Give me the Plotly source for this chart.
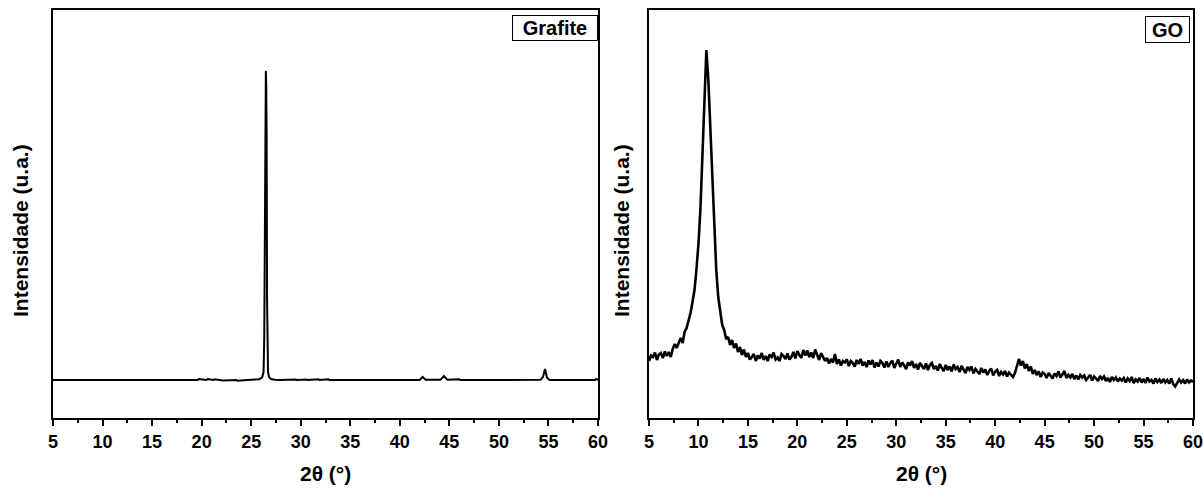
import numpy as np
import plotly.graph_objects as go
from plotly.subplots import make_subplots

# ---------------- Data ----------------
# Grafite diffractogram (arbitrary intensity units)
grafite_2theta = [5.0, 19.6, 19.7, 20.5, 20.6, 21.2, 21.3, 22.0, 22.1, 23.5, 23.6, 25.0,
                  25.8, 26.1, 26.25, 26.32, 26.38, 26.42, 26.48, 26.52, 26.56, 26.6,
                  26.64, 26.7, 26.8, 27.0, 27.4, 28.0, 29.5, 29.6, 30.6, 30.7, 31.8,
                  31.9, 32.8, 32.9, 42.0, 42.3, 42.6, 44.1, 44.45, 44.8, 46.0, 46.1,
                  54.2, 54.45, 54.65, 54.85, 55.1, 59.7, 59.8, 60.0]
grafite_int = [370, 370, 380, 370, 380, 370, 378, 370, 365, 370, 362, 372,
               378, 395, 450, 800, 2100, 2900, 3460, 3300, 2800, 1200,
               700, 450, 400, 380, 372, 370, 375, 370, 376, 370, 378,
               370, 377, 370, 370, 400, 372, 372, 410, 372, 377, 370,
               372, 400, 480, 395, 370, 370, 380, 372]

# GO diffractogram, sampled every 0.2 degree from 5 to 60
go_2theta = np.round(np.arange(5.0, 60.0001, 0.2), 1)
go_int = [
    560, 615, 600, 645, 570, 625, 640, 590, 655, 610,          # 5.0 - 6.8
    650, 600, 680, 730, 690, 745, 790, 740, 850, 890,          # 7.0 - 8.8
    960, 1040, 1150, 1270, 1480, 1730, 2080, 2570, 3050, 3670, # 9.0 - 10.8
    3370, 2890, 2380, 1810, 1470, 1200, 1070, 920, 870, 780,   # 11.0 - 12.8
    800, 720, 770, 690, 735, 650, 700, 620, 675, 600,          # 13.0 - 14.8
    640, 575, 600, 630, 560, 615, 585, 640, 570, 610,          # 15.0 - 16.8
    560, 625, 600, 645, 575, 595, 560, 630, 610, 580,          # 17.0 - 18.8
    635, 575, 600, 650, 585, 660, 620, 590, 670, 615,          # 19.0 - 20.8
    665, 600, 645, 590, 675, 610, 570, 640, 600, 560,          # 21.0 - 22.8
    590, 535, 580, 545, 630, 530, 575, 515, 560, 545,          # 23.0 - 24.8
    575, 510, 560, 540, 505, 570, 530, 580, 515, 550,          # 25.0 - 26.8
    500, 565, 525, 570, 495, 545, 505, 560, 540, 495,          # 27.0 - 28.8
    555, 500, 540, 565, 490, 530, 575, 500, 545, 515,          # 29.0 - 30.8
    480, 545, 515, 560, 490, 530, 475, 540, 505, 480,          # 31.0 - 32.8
    535, 470, 520, 540, 480, 510, 465, 530, 490, 460,          # 33.0 - 34.8
    520, 470, 505, 455, 525, 480, 500, 450, 510, 470,          # 35.0 - 36.8
    440, 500, 470, 505, 435, 480, 455, 430, 490, 445,          # 37.0 - 38.8
    475, 420, 460, 485, 415, 455, 470, 410, 450, 425,          # 39.0 - 40.8
    460, 405, 445, 425, 400, 440, 520, 580, 515, 560,          # 41.0 - 42.8
    485, 530, 460, 505, 430, 470, 420, 455, 400, 445,          # 43.0 - 44.8
    430, 390, 440, 405, 385, 435, 410, 455, 395, 425,          # 45.0 - 46.8
    460, 390, 420, 395, 430, 380, 415, 375, 420, 395,          # 47.0 - 48.8
    415, 370, 400, 420, 365, 405, 385, 360, 410, 380,          # 49.0 - 50.8
    405, 360, 390, 350, 400, 370, 395, 355, 385, 365,          # 51.0 - 52.8
    390, 345, 385, 360, 400, 340, 375, 355, 390, 345,          # 53.0 - 54.8
    380, 340, 395, 355, 370, 335, 385, 350, 375, 340,          # 55.0 - 56.8
    380, 345, 370, 335, 385, 330, 305, 340, 375, 345,          # 57.0 - 58.8
    370, 335, 375, 345, 365, 350,                              # 59.0 - 60.0
]

x_ticks = [5, 10, 15, 20, 25, 30, 35, 40, 45, 50, 55, 60]
x_minor = [7.5, 12.5, 17.5, 22.5, 27.5, 32.5, 37.5, 42.5, 47.5, 52.5, 57.5]
panel_labels = ["Grafite", "GO"]
y_title = "Intensidade (u.a.)"
x_title = "2\u03b8 (\u00b0)"

# ---------------- Figure ----------------
FONT = "Liberation Sans"
W, H = 1203, 488
ML, MR, MT, MB = 53, 10, 10, 70
plot_w = W - ML - MR
plot_h = H - MT - MB

fig = make_subplots(rows=1, cols=2, horizontal_spacing=0.0)
fig.add_trace(go.Scatter(x=grafite_2theta, y=grafite_int, mode="lines",
                         line=dict(color="black", width=2), showlegend=False), row=1, col=1)
fig.add_trace(go.Scatter(x=go_2theta, y=go_int, mode="lines",
                         line=dict(color="black", width=2.6), showlegend=False), row=1, col=2)

xdom1 = [0, 545 / plot_w]
xdom2 = [(649 - ML) / plot_w, 1]

fig.update_layout(
    width=W, height=H, margin=dict(l=ML, r=MR, t=MT, b=MB),
    paper_bgcolor="white", plot_bgcolor="white",
    font=dict(family=FONT, color="black"),
)
fig.update_xaxes(domain=xdom1, row=1, col=1)
fig.update_xaxes(domain=xdom2, row=1, col=2)
fig.update_xaxes(
    range=[5, 60], tickmode="array", tickvals=x_ticks,
    ticktext=["<b>%d</b>" % t for t in x_ticks],
    ticks="outside", ticklen=6, tickwidth=2, automargin=False,
    ticklabeloverflow="allow",
    tickcolor="black", showline=True, linecolor="black", linewidth=2, mirror=True,
    showgrid=False, zeroline=False,
    tickfont=dict(family=FONT, size=18, color="black", weight="bold"),
    minor=dict(tickvals=x_minor, ticks="outside", ticklen=3, tickwidth=2, tickcolor="black"),
)
fig.update_yaxes(range=[-10, 4070], showticklabels=False, ticks="", showline=True,
                 automargin=False,
                 linecolor="black", linewidth=2, mirror=True, showgrid=False, zeroline=False)

ann = []
# panel labels (boxed)
ann.append(dict(text="<b>" + panel_labels[0] + "</b>", xref="x domain", yref="y domain",
                x=1, y=1, xanchor="right", yanchor="top", xshift=0, yshift=-5,
                showarrow=False, font=dict(family=FONT, size=20, color="black"),
                bordercolor="black", borderwidth=1, borderpad=1, bgcolor="white",
                width=82, height=22))
ann.append(dict(text="<b>" + panel_labels[1] + "</b>", xref="x2 domain", yref="y2 domain",
                x=1, y=1, xanchor="right", yanchor="top", xshift=-3, yshift=-6,
                showarrow=False, font=dict(family=FONT, size=20, color="black"),
                bordercolor="black", borderwidth=1, borderpad=1, bgcolor="white",
                width=41, height=23))
# y titles
for xpx in [20, 621]:
    ann.append(dict(text="<b>" + y_title + "</b>", xref="paper", yref="paper",
                    x=(xpx - ML) / plot_w, y=(H - MB - 231) / plot_h,
                    xanchor="center", yanchor="middle", textangle=-90, showarrow=False,
                    font=dict(family=FONT, size=21, color="black")))
# x titles
for xd in ["x domain", "x2 domain"]:
    ann.append(dict(text="<b>" + x_title + "</b>", xref=xd, yref="paper",
                    x=0.5, y=(H - MB - 473) / plot_h, xanchor="center", yanchor="middle",
                    showarrow=False, font=dict(family=FONT, size=21, color="black")))
fig.update_layout(annotations=ann)

fig.write_html("out.html")
